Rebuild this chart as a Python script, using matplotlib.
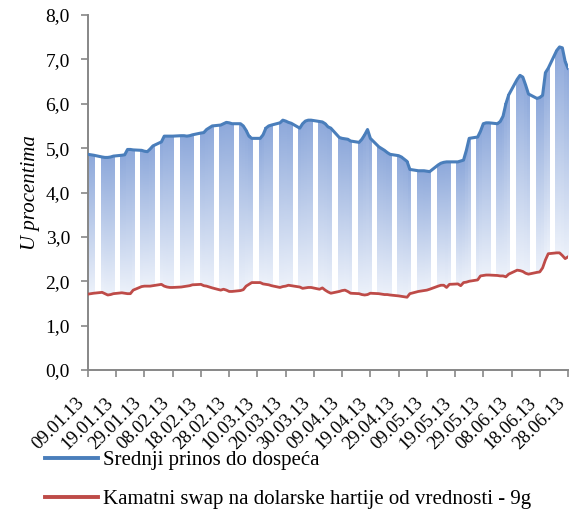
import numpy as np
import pandas as pd
import matplotlib
matplotlib.use("Agg")
import matplotlib.pyplot as plt
import matplotlib.dates as mdates
from matplotlib.colors import LinearSegmentedColormap
from matplotlib.lines import Line2D

plt.rcParams['font.family'] = ['Liberation Serif', 'DejaVu Serif']

# business days, 09.01.2013 - 28.06.2013
dates = pd.bdate_range('2013-01-09', '2013-06-28')

# Srednji prinos do dospeca (%)
prinos = [
    4.86, 4.85, 4.84,
    4.80, 4.79, 4.79, 4.80, 4.82,
    4.84, 4.85, 4.97, 4.97, 4.96,
    4.95, 4.93, 4.92, 4.98, 5.05,
    5.14, 5.27, 5.27, 5.27, 5.27,
    5.28, 5.28, 5.27, 5.28, 5.30,
    5.34, 5.35, 5.42, 5.46, 5.50,
    5.52, 5.55, 5.58, 5.57, 5.55,
    5.55, 5.50, 5.40, 5.27, 5.22,
    5.22, 5.30, 5.45, 5.50, 5.52,
    5.57, 5.63, 5.61, 5.58, 5.56,
    5.45, 5.55, 5.61, 5.63, 5.63,
    5.60, 5.59, 5.55, 5.48, 5.45,
    5.24, 5.22, 5.21, 5.20, 5.16,
    5.13, 5.20, 5.30, 5.42, 5.22,
    5.03, 4.99, 4.95, 4.90, 4.86,
    4.83, 4.80, 4.75, 4.70, 4.52,
    4.49, 4.49, 4.49, 4.48, 4.47,
    4.62, 4.66, 4.68, 4.69, 4.69,
    4.69, 4.71, 4.73, 4.95, 5.22,
    5.25, 5.38, 5.55, 5.57, 5.57,
    5.55, 5.60, 5.72, 6.00, 6.20,
    6.55, 6.64, 6.60, 6.42, 6.22,
    6.12, 6.14, 6.19, 6.70, 6.80,
    7.20, 7.28, 7.26, 6.95, 6.80,
]

# Kamatni swap na dolarske hartije od vrednosti - 9g (%)
swap = [
    1.71, 1.72, 1.73,
    1.75, 1.72, 1.69, 1.70, 1.72,
    1.74, 1.73, 1.72, 1.72, 1.80,
    1.88, 1.89, 1.89, 1.89, 1.90,
    1.93, 1.89, 1.87, 1.86, 1.86,
    1.87, 1.88, 1.89, 1.90, 1.92,
    1.93, 1.90, 1.89, 1.87, 1.85,
    1.80, 1.82, 1.80, 1.77, 1.77,
    1.79, 1.81, 1.89, 1.93, 1.97,
    1.97, 1.94, 1.93, 1.92, 1.90,
    1.86, 1.88, 1.89, 1.91, 1.90,
    1.87, 1.84, 1.85, 1.86, 1.86,
    1.82, 1.85, 1.80, 1.76, 1.73,
    1.77, 1.79, 1.80, 1.77, 1.73,
    1.72, 1.70, 1.69, 1.70, 1.73,
    1.72, 1.71, 1.70, 1.70, 1.69,
    1.67, 1.66, 1.65, 1.64, 1.72,
    1.77, 1.78, 1.79, 1.80, 1.82,
    1.89, 1.91, 1.91, 1.86, 1.93,
    1.94, 1.90, 1.97, 1.98, 2.00,
    2.03, 2.12, 2.13, 2.14, 2.14,
    2.13, 2.12, 2.12, 2.10, 2.16,
    2.25, 2.24, 2.22, 2.18, 2.16,
    2.20, 2.21, 2.30, 2.48, 2.62,
    2.64, 2.64, 2.58, 2.51, 2.55,
]

labels = ['Srednji prinos do dospeća',
          'Kamatni swap na dolarske hartije od vrednosti - 9g']
yticks = np.arange(0, 9, 1)

blue = '#4A7EBB'
red = '#BE4B48'
grad = LinearSegmentedColormap.from_list('g', ['#ECF1FA', '#8EA9DB'])

fig = plt.figure(figsize=(5.73, 5.18), dpi=100)
ax = fig.add_axes([88/573, 1-370/518, 480/573, 355/518])

x = mdates.date2num(dates)
g = np.linspace(0, 1, 64).reshape(-1, 1)
for xi, lo, hi in zip(x, swap, prinos):
    ax.imshow(g, extent=[xi-0.5, xi+0.5, lo, hi], origin='lower',
              cmap=grad, aspect='auto', interpolation='bilinear', zorder=1)

ax.plot(x, prinos, color=blue, lw=2.2, zorder=3)
ax.plot(x, swap, color=red, lw=2.0, zorder=3)

x0 = x[0]
ax.set_xlim(x0, x[-1])
ax.set_ylim(0, 8)
xt = x0 + np.arange(18)*10
ax.set_xticks(xt)
ax.set_xticklabels([mdates.num2date(t).strftime('%d.%m.%y') for t in xt],
                   rotation=45, ha='right', va='bottom', rotation_mode='anchor')
ax.set_yticks(yticks)
ax.set_yticklabels([f'{v:.1f}'.replace('.', ',') for v in yticks])
ax.tick_params(axis='both', direction='out', length=5, width=1.2,
               color='#878787', labelsize=14)
ax.tick_params(axis='x', labelsize=13.5, pad=21)
ax.tick_params(axis='y', pad=8)
for s in ['top', 'right']:
    ax.spines[s].set_visible(False)
for s in ['left', 'bottom']:
    ax.spines[s].set_color('#878787')
    ax.spines[s].set_linewidth(1.4)
ax.set_ylabel('U procentima', fontsize=15, style='italic', labelpad=4)

handles = [Line2D([], [], color=blue, lw=2.8), Line2D([], [], color=red, lw=2.8)]
fig.legend(handles, labels, loc='upper left', bbox_to_anchor=(37/573, 1-442/518),
           frameon=False, fontsize=15, handlelength=2.55, handletextpad=0.2,
           labelspacing=0.95, borderaxespad=0)

fig.savefig('out.png', dpi=100)
